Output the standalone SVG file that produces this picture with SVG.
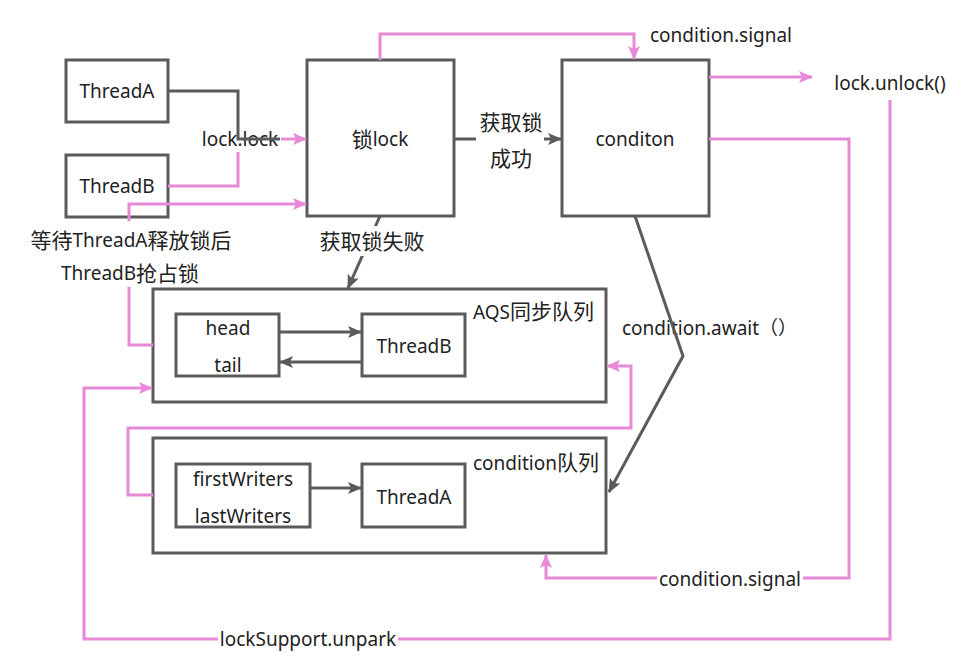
<svg xmlns="http://www.w3.org/2000/svg" width="964" height="665" viewBox="0 0 964 665">
<style>
text{font-family:"Noto Sans","Noto Sans CJK SC",sans-serif;font-size:19px;fill:#222;}
.z{font-size:21px;}
.c{text-anchor:middle;dominant-baseline:central;}
.box{fill:#fff;stroke:#5b5b5b;stroke-width:3;}
.pk{fill:none;stroke:#e68ad8;stroke-width:3;}
.dk{fill:none;stroke:#5b5b5b;stroke-width:3;}
.bg{fill:#fff;}
</style>
<defs>
<marker id="ap" markerUnits="userSpaceOnUse" markerWidth="14" markerHeight="12" refX="13" refY="6" orient="auto"><path d="M0,0 L14,6 L0,12 L3,6 Z" fill="#e68ad8"/></marker>
<marker id="ad" markerUnits="userSpaceOnUse" markerWidth="14" markerHeight="12" refX="13" refY="6" orient="auto"><path d="M0,0 L14,6 L0,12 L3,6 Z" fill="#5b5b5b"/></marker>
</defs>
<g id="n-threadA"><rect class="box" x="66" y="60" width="102" height="62"/><text class="c" x="117" y="91">ThreadA</text></g>
<g id="n-threadB"><rect class="box" x="66" y="155" width="102" height="62"/><text class="c" x="117" y="186">ThreadB</text></g>
<g id="n-lock"><rect class="box" x="307" y="60" width="147" height="156"/><text class="c" x="380" y="139"><tspan class="z">锁</tspan>lock</text></g>
<g id="n-conditon"><rect class="box" x="562" y="60" width="147" height="156"/><text class="c" x="635" y="139">conditon</text></g>
<g id="n-aqs"><rect class="box" x="153" y="289" width="453" height="113"/><text x="473" y="319">AQS<tspan class="z">同步队列</tspan></text></g>
<g id="n-headtail"><rect class="box" x="176" y="314" width="103" height="62"/><text class="c" x="228" y="328">head</text><text class="c" x="228" y="365">tail</text></g>
<g id="n-aqs-threadB"><rect class="box" x="362" y="314" width="103" height="62"/><text class="c" x="414" y="346">ThreadB</text></g>
<g id="n-condq"><rect class="box" x="153" y="438" width="453" height="115"/><text x="473" y="470">condition<tspan class="z">队列</tspan></text></g>
<g id="n-writers"><rect class="box" x="176" y="464" width="134" height="63"/><text class="c" x="243" y="479">firstWriters</text><text class="c" x="243" y="516">lastWriters</text></g>
<g id="n-cq-threadA"><rect class="box" x="362" y="464" width="103" height="63"/><text class="c" x="414" y="497">ThreadA</text></g>
<g id="connectors">
<path class="pk" d="M380,60 V34 H634 V59" marker-end="url(#ap)"/>
<text x="650" y="42">condition.signal</text>
<path class="pk" d="M709,77 H812" marker-end="url(#ap)"/>
<text class="c" x="890" y="83">lock.unlock()</text>
<path class="pk" d="M890,100 V639 H84 V388 H152" marker-end="url(#ap)"/>
<rect class="bg" x="218" y="628" width="180" height="24"/>
<text class="c" x="308" y="639">lockSupport.unpark</text>
<path class="pk" d="M709,139 H849 V578 H546 V555" marker-end="url(#ap)"/>
<rect class="bg" x="657" y="567" width="146" height="24"/>
<text class="c" x="730" y="579">condition.signal</text>
<path class="pk" d="M153,495 H128 V428 H631 V366 H607" marker-end="url(#ap)"/>
<path class="pk" d="M153,345 H129 V204 H306" marker-end="url(#ap)"/>
<rect class="bg" x="115" y="221" width="28" height="66"/>
<text class="c" x="131" y="240"><tspan class="z">等待</tspan>ThreadA<tspan class="z">释放锁后</tspan></text>
<text class="c" x="130" y="273">ThreadB<tspan class="z">抢占锁</tspan></text>
<path class="pk" d="M168,186 H238 V139 H306" marker-end="url(#ap)"/>
<rect class="bg" x="199" y="128" width="82" height="24"/>
<text class="c" x="240" y="139">lock.lock</text>
<path class="dk" d="M168,91 H238 V139 H280"/>
<path class="dk" d="M454,139 H561" marker-end="url(#ad)"/>
<rect class="bg" x="476" y="106" width="68" height="68"/>
<text class="c z" x="511" y="122">获取锁</text>
<text class="c z" x="511" y="158">成功</text>
<path class="dk" d="M380,216 L348,288" marker-end="url(#ad)"/>
<rect class="bg" x="318" y="226" width="108" height="30"/>
<text class="c z" x="372" y="241">获取锁失败</text>
<text x="622" y="335">condition.await（）</text>
<path class="dk" d="M635,216 L683,356 L609,492" marker-end="url(#ad)"/>
<path class="dk" d="M279,332 H361" marker-end="url(#ad)"/>
<path class="dk" d="M362,362 H280" marker-end="url(#ad)"/>
<path class="dk" d="M310,488 H361" marker-end="url(#ad)"/>
</g>
</svg>
